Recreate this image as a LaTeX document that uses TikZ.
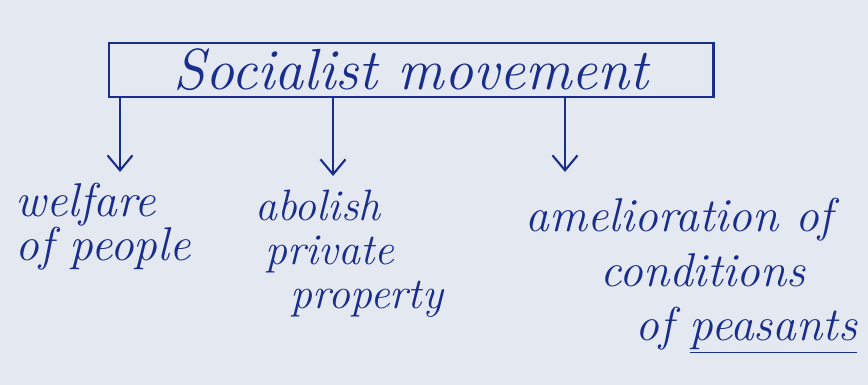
\documentclass[tikz,border=0pt]{standalone}
\usepackage{xcolor}
\usepackage{tikz}
\usetikzlibrary{arrows.meta,positioning}

\definecolor{ink}{RGB}{25,45,140}
\definecolor{paper}{RGB}{228,232,240}

\begin{document}
\begin{tikzpicture}[
    x=0.02cm, y=-0.02cm,
    title/.style={draw=ink, line width=1.2pt, text=ink, minimum width=12.1cm, minimum height=1cm, font=\fontsize{33}{35}\selectfont\itshape},
    label/.style={text=ink, align=left, anchor=north west, inner sep=0pt, font=\fontsize{27}{25}\selectfont\itshape},
    edge/.style={-{Straight Barb[length=3mm,width=5mm]}, ink, line width=1.2pt}
]
    % Paper
    \fill[paper] (0,0) rectangle (868,385);
    \useasboundingbox (0,0) rectangle (868,385);

    % Central box
    \node[title] (soc) at (411,70) {Socialist movement};

    % Aims
    \node[label] (welf) at (15,183) {welfare\\of people};
    \node[label, font=\fontsize{25}{25}\selectfont\itshape] (abol) at (255,190) {abolish\\\hspace*{0.2cm}private\\\hspace*{0.7cm}property};
    \node[label, font=\fontsize{27}{31}\selectfont\itshape] (amel) at (525,198) {amelioration of\\\hspace*{1.5cm}conditions\\\hspace*{2.2cm}of \underline{peasants}};

    % Arrow tips
    \coordinate (t1) at (120,172);
    \coordinate (t2) at (333,176);
    \coordinate (t3) at (565,172);

    % Relationships
    \draw[edge] (soc.south -| t1) -- (t1);
    \draw[edge] (soc.south -| t2) -- (t2);
    \draw[edge] (soc.south -| t3) -- (t3);

\end{tikzpicture}
\end{document}
